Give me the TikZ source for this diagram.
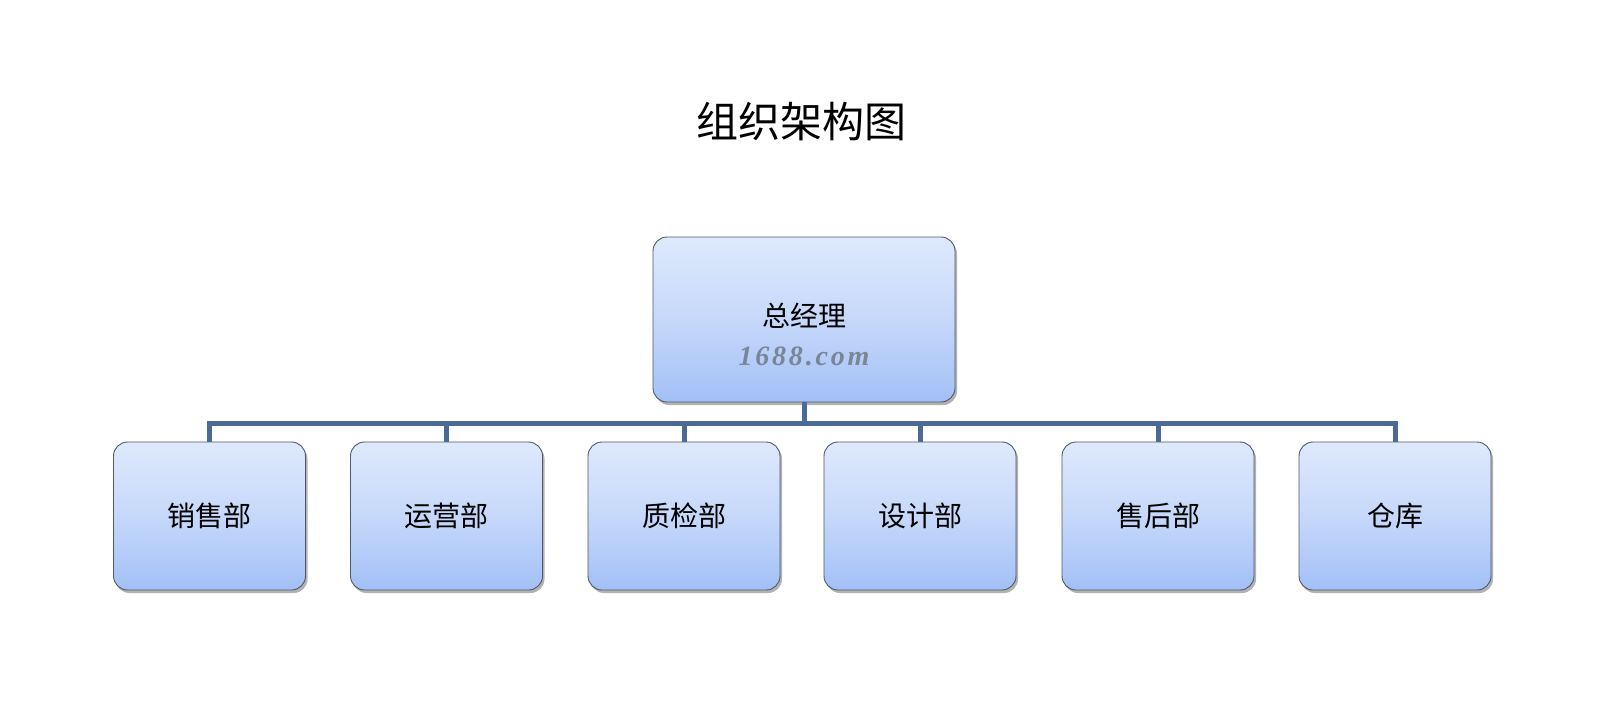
\documentclass[tikz,border=0pt]{standalone}
\usepackage{fontspec}
\setmainfont{Noto Sans CJK SC}
\newfontfamily\wmfont[LetterSpace=10]{Liberation Serif}
\usetikzlibrary{shadows}
\definecolor{boxtop}{HTML}{DEE9FC}
\definecolor{boxmid}{HTML}{C6D8FA}
\definecolor{boxbot}{HTML}{A2C0F6}
\definecolor{boxline}{HTML}{4F596B}
\definecolor{conncol}{HTML}{4B6A96}
\definecolor{wmcol}{HTML}{7A8697}
\tikzset{
  unit/.style={rounded corners=14pt, draw=boxline, line width=0.9pt,
    top color=boxtop, bottom color=boxbot, middle color=boxmid,
    drop shadow={shadow xshift=2pt, shadow yshift=-3pt, opacity=0.3, fill=black},
    font=\fontsize{28}{32}\selectfont, text=black, inner sep=0pt},
  dept/.style={unit, minimum width=192pt, minimum height=148pt},
  boss/.style={unit, minimum width=302pt, minimum height=165pt},
  conn/.style={draw=conncol, line width=5pt},
}
\begin{document}
\begin{tikzpicture}[x=1pt,y=-1pt]
\useasboundingbox[fill=white] (0,0) rectangle (1600,706);
\node[font=\fontsize{42}{46}\selectfont] (title) at (801,122) {组织架构图};
\node[boss] (top) at (804,319.5) {};
\node[font=\fontsize{28}{32}\selectfont] (toptext) at (804,316) {总经理};
\node[font=\wmfont\fontsize{28}{32}\selectfont\bfseries\itshape, text=wmcol] (wm) at (804,356) {1688.com};
\node[dept] (b1) at (209.5,516) {销售部};
\node[dept] (b2) at (446.5,516) {运营部};
\node[dept] (b3) at (684,516) {质检部};
\node[dept] (b4) at (920,516) {设计部};
\node[dept] (b5) at (1158,516) {售后部};
\node[dept] (b6) at (1395,516) {仓库};
\coordinate (bar) at (804,423);
\draw[conn] (top.south) -- (bar);
\draw[conn] (b1.north) |- (bar -| b6.north) -- (b6.north);
\foreach \b in {b2,b3,b4,b5} {
  \draw[conn] (\b.north) -- (\b.north |- bar);
}
\end{tikzpicture}
\end{document}
